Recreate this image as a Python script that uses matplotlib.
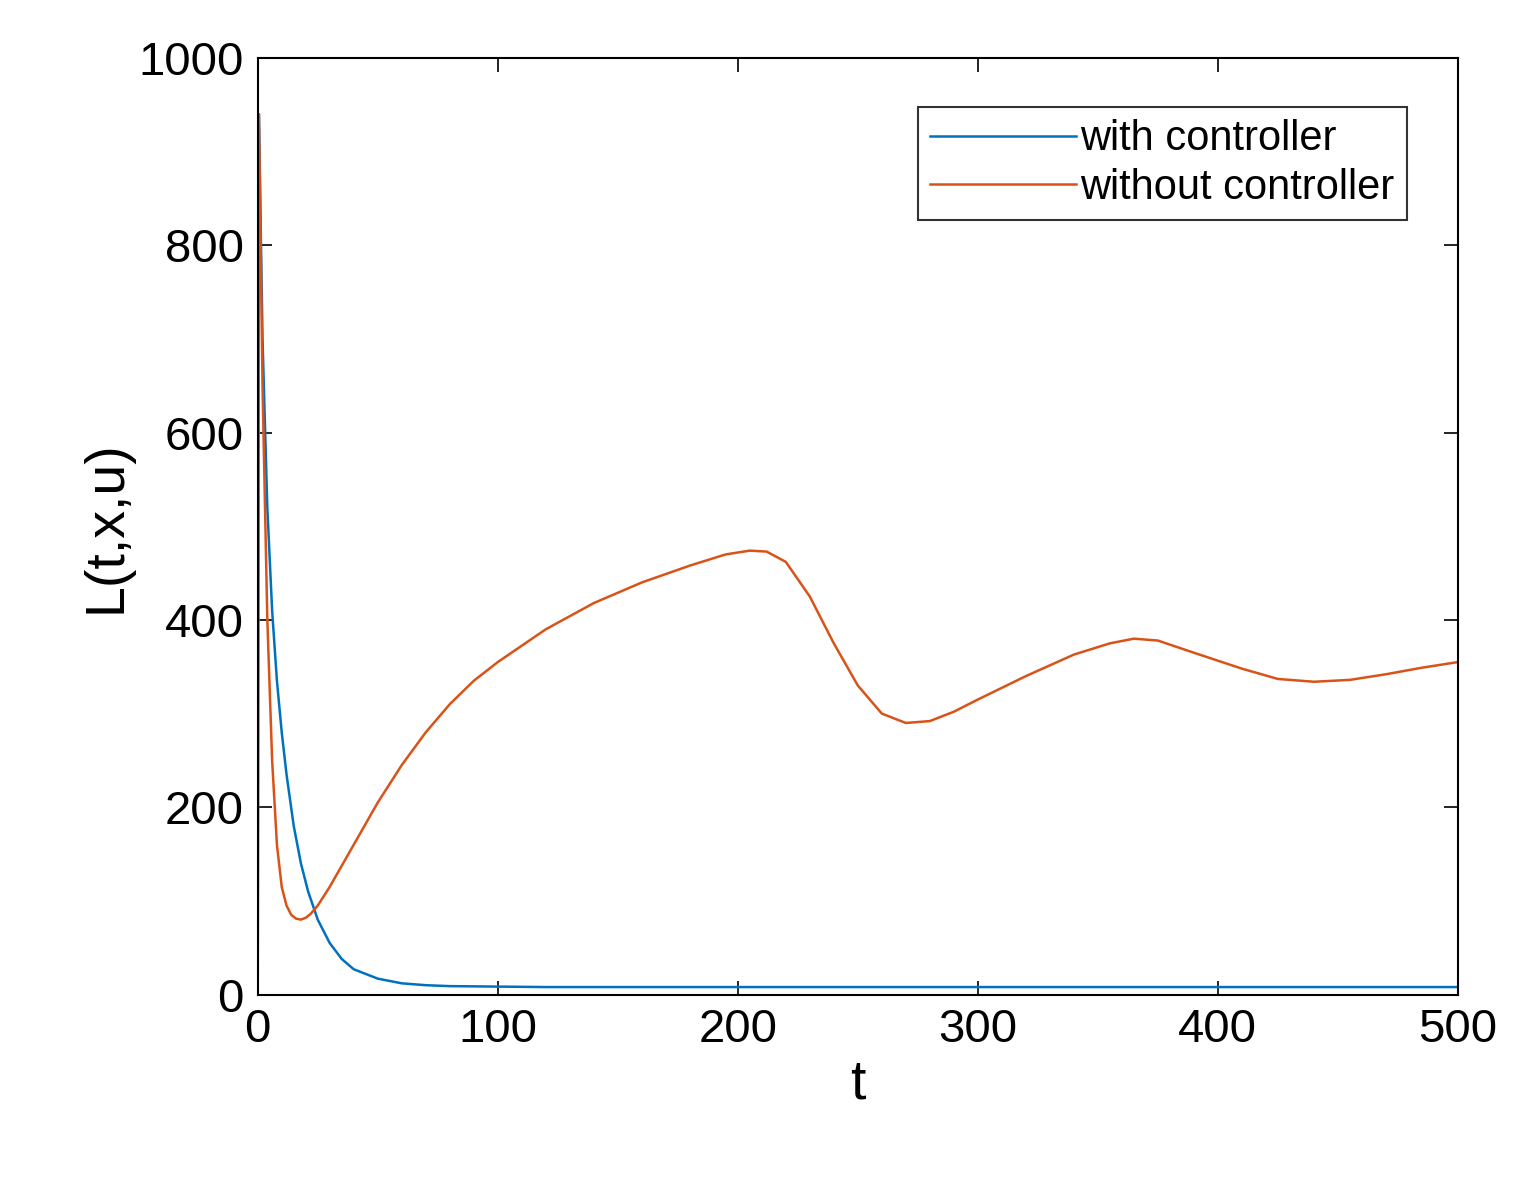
import matplotlib
matplotlib.use("Agg")
import matplotlib.pyplot as plt

plt.rcParams['font.family'] = ['Liberation Sans', 'DejaVu Sans']

t_with = [0, 0.5, 2, 4, 6, 8, 10, 12, 15, 18, 21, 25, 30, 35, 40, 50, 60, 70, 80, 100, 120, 150, 200, 300, 400, 500]
L_with = [0, 940, 700, 520, 410, 335, 280, 235, 180, 140, 110, 80, 55, 38, 27, 17, 12, 10, 9, 8.5, 8, 8, 8, 8, 8, 8]

t_without = [0, 0.5, 2, 4, 6, 8, 10, 12, 14, 16, 18, 20, 22, 25, 30, 40, 50, 60, 70, 80, 90, 100, 120, 140, 160, 180,
             195, 205, 212, 220, 230, 240, 250, 260, 270, 280, 290, 300, 320, 340, 355, 365, 375, 390, 410, 425, 440, 455, 470, 485, 500]
L_without = [0, 940, 650, 400, 250, 160, 115, 95, 85, 81, 80, 82, 86, 95, 115, 160, 205, 245, 280, 310, 335, 355, 390, 418, 440, 458,
             470, 474, 473, 462, 425, 375, 330, 300, 290, 292, 302, 315, 340, 363, 375, 380, 378, 365, 348, 337, 334, 336, 342, 349, 355]

fig = plt.figure(figsize=(15.25, 11.84), dpi=100)
ax = fig.add_axes([0.169, 0.160, 0.787, 0.791])
ax.plot(t_with, L_with, color='#0072BD', lw=1.8, label='with controller')
ax.plot(t_without, L_without, color='#D95319', lw=1.8, label='without controller')
ax.set_xlim(0, 500)
ax.set_ylim(0, 1000)
ax.set_xticks([0, 100, 200, 300, 400, 500])
ax.set_yticks([0, 200, 400, 600, 800, 1000])
ax.tick_params(direction='in', top=True, right=True, labelsize=34, length=10, width=1.2, pad=10)
for s in ax.spines.values():
    s.set_linewidth(1.5)
ax.set_xlabel('t', fontsize=40)
ax.set_ylabel('L(t,x,u)', fontsize=40)
leg = ax.legend(loc='upper right', fontsize=30, fancybox=False, edgecolor='black',
                handlelength=3.5, handletextpad=0.1, borderpad=0.3, labelspacing=0.2,
                bbox_to_anchor=(0.975, 0.97))
leg.get_frame().set_linewidth(1.5)
fig.savefig('out.png', dpi=100)
